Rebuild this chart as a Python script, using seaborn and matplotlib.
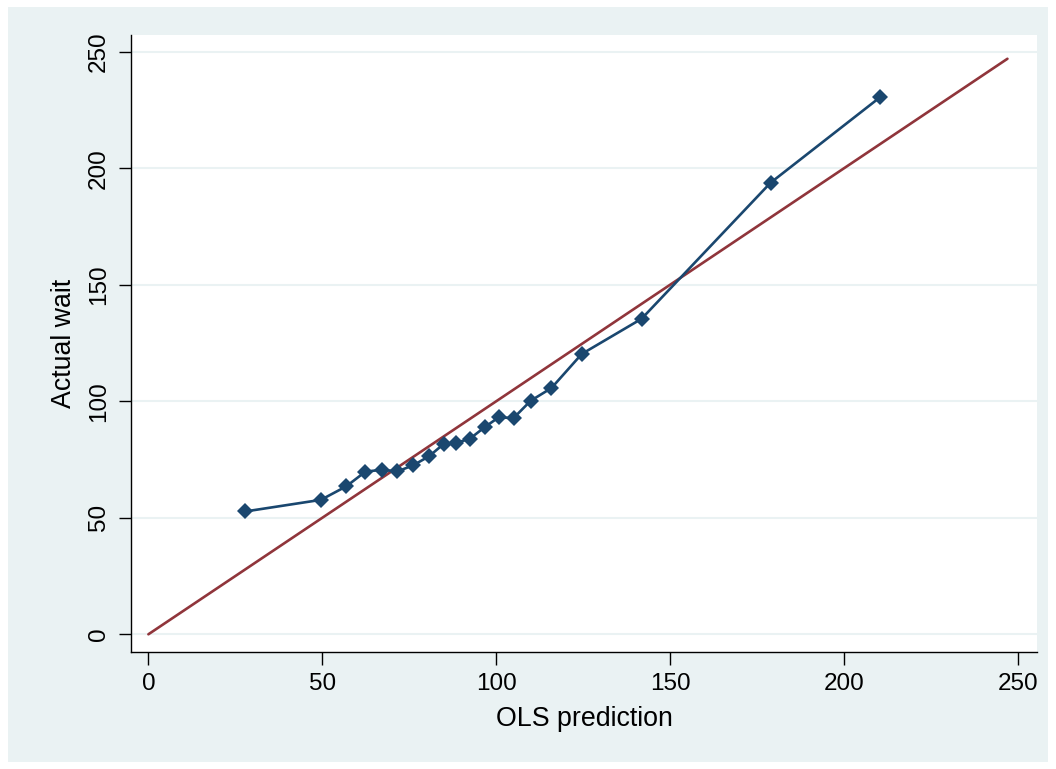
import matplotlib
matplotlib.use("Agg")
import matplotlib.pyplot as plt
import seaborn as sns
import pandas as pd
from matplotlib.patches import Rectangle

# Data
ols_pred = [27.8, 49.6, 56.9, 62.4, 67.1, 71.6, 76.1, 80.7, 85.0, 88.5, 92.5, 96.7,
            100.7, 105.0, 109.9, 115.9, 124.6, 141.8, 178.9, 210.3]
actual_wait = [52.7, 57.7, 63.5, 69.8, 70.6, 69.9, 72.5, 76.4, 81.8, 82.1, 84.0, 88.9,
               93.1, 92.8, 100.2, 105.7, 120.3, 135.4, 193.8, 230.4]
ref_x = [0, 247]
ref_y = [0, 247]
xticks = [0, 50, 100, 150, 200, 250]
yticks = [0, 50, 100, 150, 200, 250]

sns.set_theme(style="white")
plt.rcParams['font.family'] = ['Liberation Sans', 'DejaVu Sans']
plt.rcParams['text.color'] = 'black'
plt.rcParams['axes.labelcolor'] = 'black'
plt.rcParams['xtick.color'] = 'black'
plt.rcParams['ytick.color'] = 'black'

W, H = 1056, 769
fig = plt.figure(figsize=(W / 100, H / 100), dpi=100, facecolor="white")
bg = "#eaf2f3"
rect = Rectangle((8 / W, 1 - 762 / H), (1048 - 8) / W, (762 - 7) / H,
                 transform=fig.transFigure, facecolor=bg, edgecolor="none", zorder=-10)
fig.add_artist(rect)

ax = fig.add_axes([131 / W, 1 - 652 / H, (1037 - 131) / W, (652 - 35) / H])
ax.set_zorder(1)
ax.set_facecolor("white")

df = pd.DataFrame({"OLS prediction": ols_pred, "Actual wait": actual_wait})
ref = pd.DataFrame({"x": ref_x, "y": ref_y})

for t in yticks:
    ax.axhline(t, color=bg, lw=1.5, zorder=0.5)

sns.lineplot(data=ref, x="x", y="y", ax=ax, color="#90353b", lw=1.9, zorder=2)
sns.lineplot(data=df, x="OLS prediction", y="Actual wait", ax=ax, color="#1a476f",
             lw=1.9, marker="D", markersize=8, markeredgewidth=0,
             markerfacecolor="#1a476f", zorder=3, sort=False)

ax.set_xlim(-5, 255.5)
ax.set_ylim(-7.6, 257.2)
ax.set_xticks(xticks)
ax.set_yticks(yticks)
ax.set_xticklabels([str(t) for t in xticks], fontsize=17.5, color="black")
ax.set_yticklabels([str(t) for t in yticks], fontsize=17.5, rotation=90, va="center",
                   color="black")
ax.tick_params(axis="both", direction="out", length=9, width=1.0, colors="black",
               bottom=True, left=True, pad=6)
for s in ["top", "right"]:
    ax.spines[s].set_visible(False)
for s in ["left", "bottom"]:
    ax.spines[s].set_color("black")
    ax.spines[s].set_linewidth(1.0)

ax.set_xlabel("OLS prediction", fontsize=19.3, labelpad=8, color="black")
ax.set_ylabel("Actual wait", fontsize=19.3, labelpad=8, color="black")

fig.savefig("out.png", dpi=100, facecolor="white")
